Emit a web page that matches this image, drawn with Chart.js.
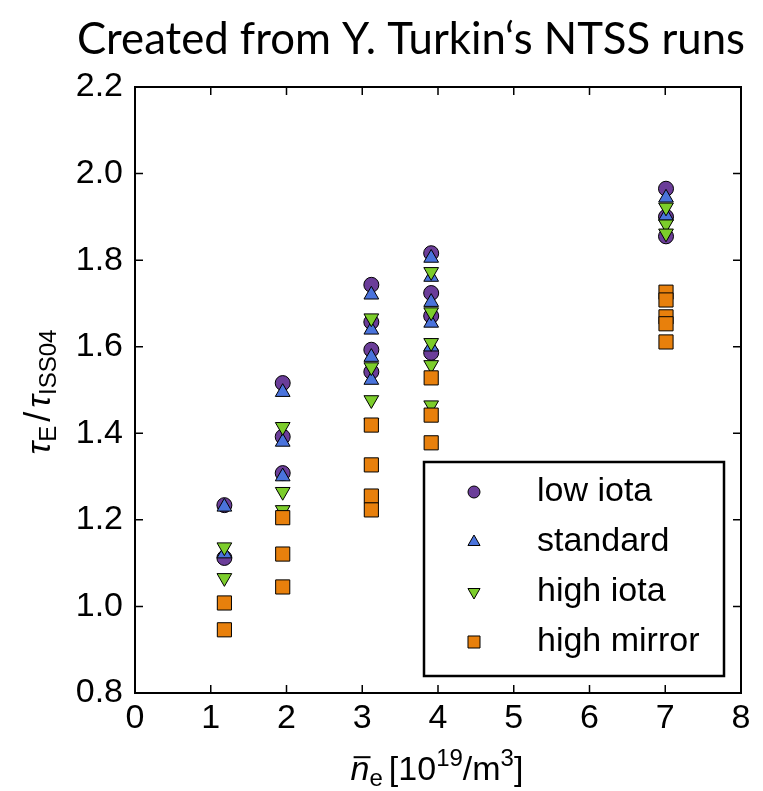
<!DOCTYPE html>
<html>
<head>
<meta charset="utf-8">
<script src="https://cdn.jsdelivr.net/npm/chart.js@4/dist/chart.umd.min.js"></script>
<style>
  html, body { margin: 0; background: #fff; }
  #wrap { width: 763px; height: 791px; position: relative; }
</style>
</head>
<body>
<div id="wrap"><canvas id="myChart"></canvas></div>
<script>
// mean density of each scan column (10^19 m^-3)
const densities = [1.18, 1.95, 3.12, 3.91, 7.01];

// tau_E / tau_ISS04 per configuration, one sub-list per density column
const lowIota = [
  [1.234, 1.112],
  [1.516, 1.392, 1.308],
  [1.743, 1.657, 1.593, 1.542],
  [1.816, 1.724, 1.671, 1.586],
  [1.965, 1.900, 1.855]
];
const standard = [
  [1.230, 1.122],
  [1.495, 1.380, 1.300],
  [1.720, 1.639, 1.576, 1.523],
  [1.805, 1.761, 1.703, 1.655, 1.600],
  [1.944, 1.902]
];
const highIota = [
  [1.137, 1.066],
  [1.415, 1.265, 1.223],
  [1.666, 1.553, 1.477, 1.424],
  [1.773, 1.680, 1.609, 1.558, 1.465],
  [1.922, 1.883, 1.862]
];
const highMirror = [
  [1.008, 0.946],
  [1.205, 1.121, 1.045],
  [1.419, 1.327, 1.255, 1.223],
  [1.528, 1.442, 1.378],
  [1.726, 1.708, 1.669, 1.653, 1.611]
];

const xTicks = [0, 1, 2, 3, 4, 5, 6, 7, 8];
const yTicks = [0.8, 1.0, 1.2, 1.4, 1.6, 1.8, 2.0, 2.2];

const FONT = "'Liberation Sans', Arial, sans-serif";

function toPoints(columns) {
  const pts = [];
  columns.forEach((col, i) => {
    col.forEach((v) => pts.push({ x: densities[i], y: v }));
  });
  return pts;
}

const series = [
  { label: "low iota", data: lowIota, color: "#6b3d99", style: "circle", rotation: 0, radius: 7.5, legendRadius: 6 },
  { label: "standard", data: standard, color: "#4a73dc", style: "triangle", rotation: 0, radius: 8.5, legendRadius: 7 },
  { label: "high iota", data: highIota, color: "#7ccd2b", style: "triangle", rotation: 180, radius: 8.5, legendRadius: 7 },
  { label: "high mirror", data: highMirror, color: "#e8800c", style: "rect", rotation: 0, radius: 10, legendRadius: 8.5 }
];

// draw a row of text pieces (sub/superscripts) centred on cx
function drawRuns(ctx, runs, cx, baseline) {
  let total = 0;
  runs.forEach((r) => {
    ctx.font = (r.italic ? "italic " : "") + r.size + "px " + FONT;
    r.w = ctx.measureText(r.text).width;
    total += r.w + (r.gap || 0);
  });
  let x = cx - total / 2;
  ctx.textAlign = "left";
  ctx.textBaseline = "alphabetic";
  runs.forEach((r) => {
    ctx.font = (r.italic ? "italic " : "") + r.size + "px " + FONT;
    ctx.fillText(r.text, x, baseline + (r.dy || 0));
    if (r.bar) {
      ctx.fillRect(x + 3, baseline - r.size * 0.7, r.w - 2, 2);
    }
    x += r.w + (r.gap || 0);
  });
}

const framePlugin = {
  id: "frame",
  beforeDatasetsDraw(chart) {
    const { ctx, chartArea: a, scales } = chart;
    ctx.save();
    ctx.strokeStyle = "#000";
    ctx.lineWidth = 2;
    ctx.strokeRect(a.left, a.top, a.right - a.left, a.bottom - a.top);
    ctx.lineWidth = 1.5;
    const tl = 8;
    ctx.beginPath();
    xTicks.slice(1, -1).forEach((t) => {
      const px = scales.x.getPixelForValue(t);
      ctx.moveTo(px, a.bottom); ctx.lineTo(px, a.bottom - tl);
      ctx.moveTo(px, a.top); ctx.lineTo(px, a.top + tl);
    });
    yTicks.slice(1, -1).forEach((t) => {
      const py = scales.y.getPixelForValue(t);
      ctx.moveTo(a.left, py); ctx.lineTo(a.left + tl, py);
      ctx.moveTo(a.right, py); ctx.lineTo(a.right - tl, py);
    });
    ctx.stroke();
    ctx.restore();
  },
  afterDraw(chart) {
    const { ctx } = chart;
    ctx.save();
    ctx.fillStyle = "#000";

    // heading
    ctx.font = "44px Lato, 'Open Sans', sans-serif";
    ctx.textAlign = "center";
    ctx.textBaseline = "alphabetic";
    ctx.fillText("Created from Y. Turkin\u2018s NTSS runs", 411, 54, 668);

    // x axis title
    drawRuns(ctx, [
      { text: "n", size: 34, italic: true, bar: true },
      { text: "e", size: 24, dy: 6, gap: 6 },
      { text: "[10", size: 34 },
      { text: "19", size: 24, dy: -14 },
      { text: "/m", size: 34 },
      { text: "3", size: 24, dy: -14 },
      { text: "]", size: 34 }
    ], 437, 780);

    // y axis title
    ctx.translate(50, 392);
    ctx.rotate(-Math.PI / 2);
    drawRuns(ctx, [
      { text: "\u03C4", size: 34, italic: true },
      { text: "E", size: 24, dy: 6, gap: 4 },
      { text: "/", size: 36, gap: 4 },
      { text: "\u03C4", size: 34, italic: true },
      { text: "ISS04", size: 24, dy: 6 }
    ], 0, 0);
    ctx.setTransform(1, 0, 0, 1, 0, 0);

    // legend box
    const box = { left: 424, top: 462, right: 724, bottom: 676 };
    ctx.fillStyle = "#fff";
    ctx.fillRect(box.left, box.top, box.right - box.left, box.bottom - box.top);
    ctx.strokeStyle = "#000";
    ctx.lineWidth = 2.5;
    ctx.strokeRect(box.left, box.top, box.right - box.left, box.bottom - box.top);
    const rows = [492, 542, 592, 642];
    series.forEach((s, i) => {
      ctx.fillStyle = s.color;
      ctx.strokeStyle = "#000";
      ctx.lineWidth = 1;
      Chart.helpers.drawPoint(ctx, {
        pointStyle: s.style, rotation: s.rotation, radius: s.legendRadius, borderWidth: 1
      }, 474, rows[i]);
      ctx.fillStyle = "#000";
      ctx.font = "34px " + FONT;
      ctx.textAlign = "left";
      ctx.textBaseline = "middle";
      ctx.fillText(s.label, 537, rows[i]);
    });
    ctx.restore();
  }
};

const datasets = series.map((s, i) => ({
  label: s.label,
  data: toPoints(s.data),
  pointStyle: s.style,
  rotation: s.rotation,
  pointRadius: s.radius,
  pointHoverRadius: s.radius,
  backgroundColor: s.color,
  borderColor: "#000",
  pointBorderWidth: 1,
  showLine: false,
  order: series.length - i
}));

const ctx = document.getElementById("myChart").getContext("2d");
window.myChartInstance = new Chart(ctx, {
  type: "scatter",
  data: { datasets: datasets },
  options: {
    responsive: true,
    maintainAspectRatio: false,
    animation: false,
    layout: { padding: { top: 87, right: 22, left: 0, bottom: 0 } },
    plugins: { legend: { display: false }, tooltip: { enabled: false } },
    scales: {
      x: {
        type: "linear",
        min: 0,
        max: 8,
        afterBuildTicks: (scale) => { scale.ticks = xTicks.map((v) => ({ value: v })); },
        afterFit: (scale) => { scale.height = 98; },
        ticks: { color: "#000", font: { family: FONT, size: 34 }, padding: 5 },
        grid: { display: false, drawTicks: false },
        border: { display: false }
      },
      y: {
        min: 0.8,
        max: 2.2,
        afterBuildTicks: (scale) => { scale.ticks = yTicks.map((v) => ({ value: v })); },
        afterFit: (scale) => { scale.width = 135; },
        ticks: {
          color: "#000",
          font: { family: FONT, size: 34 },
          padding: 12,
          callback: (v) => Number(v).toFixed(1)
        },
        grid: { display: false, drawTicks: false },
        border: { display: false }
      }
    }
  },
  plugins: [framePlugin]
});
</script>
</body>
</html>
